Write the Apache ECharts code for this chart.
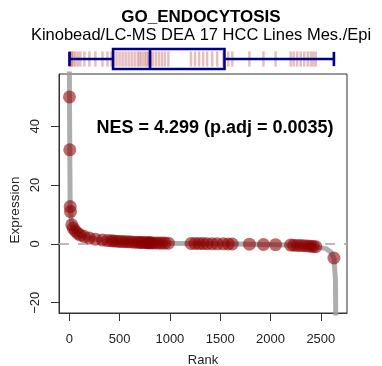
<!DOCTYPE html>
<html>
<head>
<meta charset="utf-8">
<script src="https://cdn.jsdelivr.net/npm/echarts@6/dist/echarts.min.js"></script>
<style>html,body{margin:0;padding:0;background:#fff}#c{width:382px;height:366px}</style>
</head>
<body>
<div id="c"></div>
<script>
// Gene-set members: rank and expression
const geneRanks = [2,5,9,12,25,40,60,85,110,150,200,260,330,380,420,440,470,500,530,560,590,620,650,680,700,720,745,765,785,795,810,830,860,890,920,950,985,1210,1250,1290,1330,1370,1420,1470,1530,1580,1620,1790,1930,2050,2200,2230,2265,2300,2335,2370,2400,2425,2450,2630];
const geneValues = [50,32,12.7,11,6.5,5.3,4.4,3.6,3.0,2.5,2.0,1.6,1.3,1.15,1.05,1.0,0.9,0.85,0.8,0.75,0.7,0.65,0.6,0.55,0.5,0.48,0.45,0.42,0.4,0.38,0.36,0.34,0.32,0.3,0.28,0.27,0.25,0.15,0.14,0.12,0.1,0.08,0.06,0.04,0.02,0,-0.02,-0.1,-0.2,-0.25,-0.4,-0.45,-0.5,-0.55,-0.6,-0.7,-0.78,-0.85,-0.95,-4.8];
// All genes ranked curve (read-off points)
const curveRanks = [1,2,5,9,12,25,40,60,85,110,150,200,260,330,410,500,600,700,800,1000,1200,1500,1800,2050,2200,2450,2550,2600,2630,2645,2652,2658];
const curveValues = [200,50,32,12.7,11,6.5,5.3,4.4,3.6,3.0,2.5,2.0,1.6,1.3,1.05,0.85,0.65,0.5,0.37,0.25,0.15,0.05,-0.1,-0.25,-0.4,-1.0,-1.6,-2.8,-4.8,-12,-40,-200];
const xTicks = [0,500,1000,1500,2000,2500];
const yTicks = [-20,0,20,40];
const titleText = 'GO_ENDOCYTOSIS';
const subtitleText = 'Kinobead/LC-MS DEA 17 HCC Lines Mes./Epi';
const nesText = 'NES = 4.299 (p.adj = 0.0035)';
const xName = 'Rank';
const yName = 'Expression';

function quantile(arr, p) {
  const s = arr.slice().sort((a,b)=>a-b);
  const h = (s.length - 1) * p;
  const lo = Math.floor(h), hi = Math.ceil(h);
  return s[lo] + (h - lo) * (s[hi] - s[lo]);
}
const boxStats = [quantile(geneRanks,0), quantile(geneRanks,0.25), quantile(geneRanks,0.5), quantile(geneRanks,0.75), quantile(geneRanks,1)];

const FONT = '"Liberation Sans", Arial, Helvetica, sans-serif';
const XMIN = -102, XMAX = 2760, YMIN = -23.5, YMAX = 57.8;
const NAVY = '#00008B';

const chart = echarts.init(document.getElementById('c'), null, {renderer:'canvas'});
chart.setOption({
  animation: false,
  textStyle: {fontFamily: FONT},
  grid: [
    {left: 59, right: 35, top: 74, bottom: 53, show: true, borderColor: '#333', borderWidth: 1, backgroundColor: 'transparent', containLabel: false, outerBoundsMode: 'none'},
    {left: 59, right: 35, top: 49, height: 20, show: false, containLabel: false, outerBoundsMode: 'none'}
  ],
  xAxis: [
    {type: 'value', gridIndex: 0, min: XMIN, max: XMAX,
     splitLine: {show: false}, axisLine: {show: true, onZero: false, lineStyle: {color: '#333', width: 1}},
     axisTick: {show: true, length: 8, inside: false, customValues: xTicks, lineStyle: {color: '#333', width: 1}},
     axisLabel: {show: true, customValues: xTicks, fontSize: 13, color: '#222', margin: 20, fontFamily: FONT,
       formatter: v => String(v)},
     name: xName, nameLocation: 'middle', nameGap: 41, nameTextStyle: {fontSize: 13, color: '#222', fontFamily: FONT}},
    {type: 'value', gridIndex: 1, min: XMIN, max: XMAX, show: false}
  ],
  yAxis: [
    {type: 'value', gridIndex: 0, min: YMIN, max: YMAX,
     splitLine: {show: false}, axisLine: {show: true, onZero: false, lineStyle: {color: '#333', width: 1}},
     axisTick: {show: true, length: 8, inside: false, customValues: yTicks, lineStyle: {color: '#333', width: 1}},
     axisLabel: {show: true, customValues: yTicks, rotate: 90, fontSize: 13, color: '#222', margin: 17, fontFamily: FONT,
       formatter: v => String(v).replace('-', '\u2212')}},
    {type: 'value', gridIndex: 1, min: 0, max: 1, show: false}
  ],
  graphic: [
    {type: 'text', x: 201, y: 17, style: {text: titleText, font: 'bold 17px ' + FONT, fill: '#000', textAlign: 'center', textVerticalAlign: 'middle'}},
    {type: 'text', x: 201, y: 35, style: {text: subtitleText, font: '16.5px ' + FONT, fill: '#000', textAlign: 'center', textVerticalAlign: 'middle'}},
    {type: 'text', x: 215, y: 128, z: 100, style: {text: nesText, font: 'bold 18px ' + FONT, fill: '#000', textAlign: 'center', textVerticalAlign: 'middle'}},
    {type: 'text', x: 15, y: 210, rotation: Math.PI / 2, style: {text: yName, font: '13.5px ' + FONT, fill: '#222', textAlign: 'center', textVerticalAlign: 'middle'}}
  ],
  series: [
    {type: 'line', xAxisIndex: 0, yAxisIndex: 0, data: curveRanks.map((r,i)=>[r, curveValues[i]]),
     showSymbol: false, symbol: 'none', clip: true, z: 1,
     lineStyle: {color: 'rgba(160,160,160,0.85)', width: 5}},
    {type: 'line', xAxisIndex: 0, yAxisIndex: 0, data: [[XMIN,0],[XMAX,0]], symbol: 'none', z: 2, clip: true,
     lineStyle: {color: 'rgba(170,170,170,0.8)', width: 2, type: [10, 9]}},
    {type: 'scatter', xAxisIndex: 0, yAxisIndex: 0, data: geneRanks.map((r,i)=>[r, geneValues[i]]),
     symbolSize: 13, z: 3, clip: true,
     itemStyle: {color: 'rgba(139,0,0,0.72)', borderWidth: 0}},
    {type: 'custom', xAxisIndex: 1, yAxisIndex: 1, z: 4, data: geneRanks.map(r=>[r]),
     renderItem: (params, api) => {
       const x = api.coord([api.value(0), 0])[0];
       const y1 = api.coord([0, 0.12])[1], y2 = api.coord([0, 0.88])[1];
       return {type: 'line', shape: {x1: x, y1: y1, x2: x, y2: y2}, style: {stroke: 'rgba(170,40,40,0.3)', lineWidth: 2.5}};
     }},
    {type: 'custom', xAxisIndex: 1, yAxisIndex: 1, z: 5, data: [boxStats],
     renderItem: (params, api) => {
       const px = v => api.coord([v, 0])[0];
       const py = v => api.coord([0, v])[1];
       const s = {stroke: NAVY, lineWidth: 2.6, fill: null};
       const [mn, q1, md, q3, mx] = [api.value(0), api.value(1), api.value(2), api.value(3), api.value(4)];
       return {type: 'group', children: [
         {type: 'line', shape: {x1: px(mn), y1: py(0.5), x2: px(q1), y2: py(0.5)}, style: s},
         {type: 'line', shape: {x1: px(q3), y1: py(0.5), x2: px(mx), y2: py(0.5)}, style: s},
         {type: 'line', shape: {x1: px(mn), y1: py(0.15), x2: px(mn), y2: py(0.85)}, style: s},
         {type: 'line', shape: {x1: px(mx), y1: py(0.15), x2: px(mx), y2: py(0.85)}, style: s},
         {type: 'rect', shape: {x: px(q1), y: py(1), width: px(q3)-px(q1), height: py(0)-py(1)}, style: {stroke: NAVY, lineWidth: 2.6, fill: 'none'}},
         {type: 'line', shape: {x1: px(md), y1: py(1), x2: px(md), y2: py(0)}, style: s}
       ]};
     }}
  ]
});
</script>
</body>
</html>
